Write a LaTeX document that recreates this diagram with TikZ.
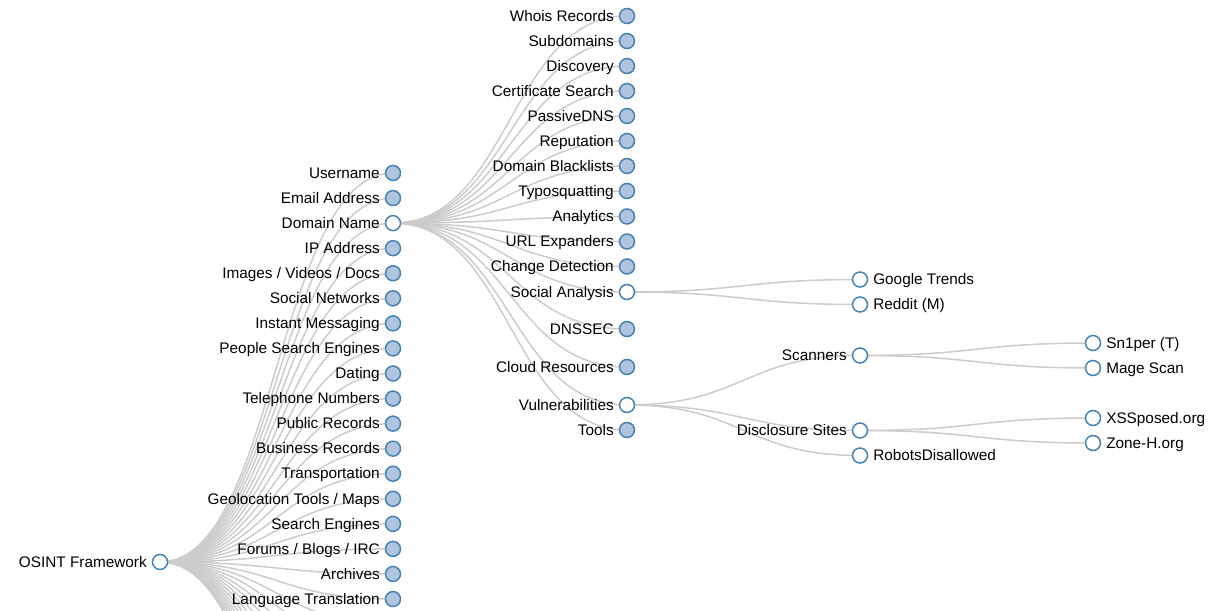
\documentclass[tikz,border=0pt]{standalone}
\usepackage{fontspec}
\setmainfont{Liberation Sans}
\usetikzlibrary{calc}
\pgfdeclarelayer{background}
\pgfsetlayers{background,main}
\definecolor{steel}{HTML}{4682B4}
\definecolor{lsteel}{HTML}{B0C4DE}
\definecolor{linkc}{HTML}{CCCCCC}
\tikzset{
  dot/.style={circle, draw=steel, line width=1.125pt, minimum size=11.25pt, inner sep=0pt},
  shut/.style={dot, fill=lsteel},
  open/.style={dot, fill=white},
  lbl/.style={font=\fontsize{11.5}{13}\selectfont, text=black, inner sep=0pt},
  link/.style={draw=linkc, line width=1.125pt},
  diag/.style={to path={let \p1=(\tikztostart), \p2=(\tikztotarget) in
    .. controls ({0.5*\x1+0.5*\x2},\y1) and ({0.5*\x1+0.5*\x2},\y2) .. (\tikztotarget)}},
}
\newcommand\LeftNd[5]{%
  \node[#1] (#2) at (#3,#4) {};
  \node[lbl, anchor=base east] (#2-t) at ([shift={(-13,5.25)}]#2.center) {#5};}
\newcommand\RightNd[5]{%
  \node[#1] (#2) at (#3,#4) {};
  \node[lbl, anchor=base west] (#2-t) at ([shift={(13,5.25)}]#2.center) {#5};}
\begin{document}
\begin{tikzpicture}[x=0.75pt,y=-0.75pt]
\useasboundingbox (0,0) rectangle (1230,610);
% root
\LeftNd{open}{osint}{160}{562}{OSINT Framework}
% level 1
\LeftNd{shut}{a1}{393}{173}{Username}
\LeftNd{shut}{a2}{393}{198.06}{Email Address}
\LeftNd{open}{dom}{393}{223.12}{Domain Name}
\LeftNd{shut}{a4}{393}{248.18}{IP Address}
\LeftNd{shut}{a5}{393}{273.24}{Images / Videos / Docs}
\LeftNd{shut}{a6}{393}{298.3}{Social Networks}
\LeftNd{shut}{a7}{393}{323.36}{Instant Messaging}
\LeftNd{shut}{a8}{393}{348.42}{People Search Engines}
\LeftNd{shut}{a9}{393}{373.48}{Dating}
\LeftNd{shut}{a10}{393}{398.54}{Telephone Numbers}
\LeftNd{shut}{a11}{393}{423.6}{Public Records}
\LeftNd{shut}{a12}{393}{448.66}{Business Records}
\LeftNd{shut}{a13}{393}{473.72}{Transportation}
\LeftNd{shut}{a14}{393}{498.78}{Geolocation Tools / Maps}
\LeftNd{shut}{a15}{393}{523.84}{Search Engines}
\LeftNd{shut}{a16}{393}{548.9}{Forums / Blogs / IRC}
\LeftNd{shut}{a17}{393}{573.96}{Archives}
\LeftNd{shut}{a18}{393}{599.02}{Language Translation}
\foreach \k in {1,...,14}{\coordinate (h\k) at (393,{599.02+25.06*\k});}
% level 2
\LeftNd{shut}{b1}{627}{16}{Whois Records}
\LeftNd{shut}{b2}{627}{41}{Subdomains}
\LeftNd{shut}{b3}{627}{66}{Discovery}
\LeftNd{shut}{b4}{627}{91}{Certificate Search}
\LeftNd{shut}{b5}{627}{116}{PassiveDNS}
\LeftNd{shut}{b6}{627}{141}{Reputation}
\LeftNd{shut}{b7}{627}{166}{Domain Blacklists}
\LeftNd{shut}{b8}{627}{191}{Typosquatting}
\LeftNd{shut}{b9}{627}{216.5}{Analytics}
\LeftNd{shut}{b10}{627}{241.5}{URL Expanders}
\LeftNd{shut}{b11}{627}{266.5}{Change Detection}
\LeftNd{open}{soc}{627}{292}{Social Analysis}
\LeftNd{shut}{b13}{627}{329}{DNSSEC}
\LeftNd{shut}{b14}{627}{367}{Cloud Resources}
\LeftNd{open}{vul}{627}{405}{Vulnerabilities}
\LeftNd{shut}{b16}{627}{430}{Tools}
% level 3
\RightNd{open}{gt}{860}{279.5}{Google Trends}
\RightNd{open}{rd}{860}{304.5}{Reddit (M)}
\LeftNd{open}{scan}{860}{355.5}{Scanners}
\LeftNd{open}{disc}{860}{430.5}{Disclosure Sites}
\RightNd{open}{rob}{860}{455.5}{RobotsDisallowed}
% level 4
\RightNd{open}{sn}{1093}{343}{Sn1per (T)}
\RightNd{open}{mage}{1093}{368}{Mage Scan}
\RightNd{open}{xss}{1093}{418}{XSSposed.org}
\RightNd{open}{zone}{1093}{443}{Zone-H.org}
% links
\begin{pgfonlayer}{background}
\begin{scope}
\clip (0,0) rectangle (1230,610);
\foreach \q in {a1,a2,dom,a4,a5,a6,a7,a8,a9,a10,a11,a12,a13,a14,a15,a16,a17,a18}
  {\draw[link] (osint.center) to[diag] (\q.center);}
\foreach \k in {1,...,14}{\draw[link] (osint.center) to[diag] (h\k);}
\foreach \q in {b1,b2,b3,b4,b5,b6,b7,b8,b9,b10,b11,soc,b13,b14,vul,b16}
  {\draw[link] (dom.center) to[diag] (\q.center);}
\draw[link] (soc.center) to[diag] (gt.center);
\draw[link] (soc.center) to[diag] (rd.center);
\draw[link] (vul.center) to[diag] (scan.center);
\draw[link] (vul.center) to[diag] (disc.center);
\draw[link] (vul.center) to[diag] (rob.center);
\draw[link] (scan.center) to[diag] (sn.center);
\draw[link] (scan.center) to[diag] (mage.center);
\draw[link] (disc.center) to[diag] (xss.center);
\draw[link] (disc.center) to[diag] (zone.center);
\end{scope}
\end{pgfonlayer}
\end{tikzpicture}
\end{document}
